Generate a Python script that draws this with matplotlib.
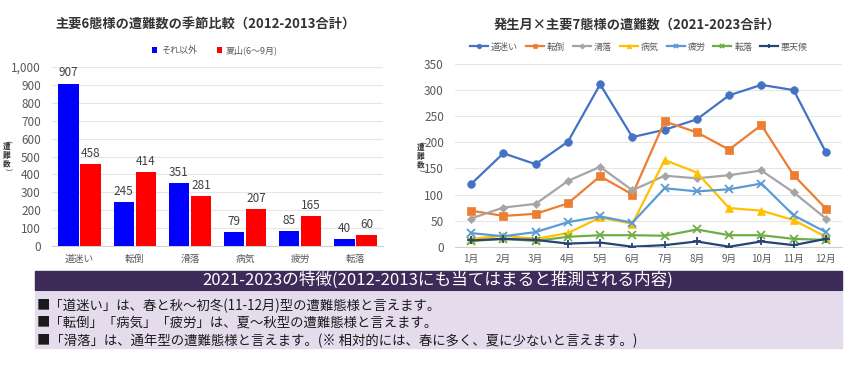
import matplotlib
matplotlib.use('Agg')
import matplotlib.pyplot as plt
from matplotlib.patches import Rectangle
from matplotlib.ticker import FuncFormatter
import numpy as np

plt.rcParams['font.family'] = ['Noto Sans CJK JP', 'DejaVu Sans']

# Left chart data (2012-2013)
bar_categories = ['道迷い', '転倒', '滑落', '病気', '疲労', '転落']
other_season = [907, 245, 351, 79, 85, 40]
summer = [458, 414, 281, 207, 165, 60]

# Right chart data (2021-2023)
months = ['1月', '2月', '3月', '4月', '5月', '6月',
          '7月', '8月', '9月', '10月', '11月', '12月']
michimayoi = [120, 179, 158, 201, 311, 210, 224, 244, 290, 310, 300, 181]
tentou = [69, 59, 63, 83, 135, 100, 240, 219, 186, 233, 137, 73]
katsuraku = [54, 75, 82, 126, 153, 108, 136, 131, 137, 146, 104, 54]
byouki = [15, 21, 15, 26, 56, 44, 166, 142, 74, 69, 51, 19]
hirou = [26, 20, 28, 47, 58, 46, 112, 106, 110, 121, 60, 28]
tenraku = [11, 15, 11, 19, 22, 22, 21, 33, 22, 22, 15, 13]
akutenkou = [12, 15, 13, 6, 8, 0, 3, 10, 0, 10, 3, 15]

W, H = 850, 365
fig = plt.figure(figsize=(W / 100, H / 100), dpi=100)
fig.patch.set_facecolor('white')


def px_axes(x0, y0, x1, y1):
    """axes from pixel box (top-left origin)"""
    return fig.add_axes([x0 / W, 1 - y1 / H, (x1 - x0) / W, (y1 - y0) / H])


def vertical_label(xc, yc):
    # stacked (upright) axis title like Excel's vertical text
    col = '#333333'
    fig.text(xc / W, 1 - (yc - 14) / H, '(', rotation=-90, ha='center',
             va='center', fontsize=5.5, color=col)
    fig.text(xc / W, 1 - yc / H, '遭\n難\n数', ha='center', va='center',
             fontsize=5.5, color=col, linespacing=0.95, fontweight='bold')
    fig.text(xc / W, 1 - (yc + 14) / H, ')', rotation=-90, ha='center',
             va='center', fontsize=5.5, color=col)


tick_col = '#595959'
grid_col = '#e6e6e6'

# ---------------- Left bar chart ----------------
ax1 = px_axes(52, 67, 383, 246)
x = np.arange(len(bar_categories))
bw = 0.37
b1 = ax1.bar(x - 0.2, other_season, bw, color='#0000ff', label='それ以外', zorder=3)
b2 = ax1.bar(x + 0.2, summer, bw, color='#ff0000', label='夏山(6～9月)', zorder=3)
for bars in (b1, b2):
    for r in bars:
        ax1.annotate(f'{int(r.get_height())}',
                     (r.get_x() + r.get_width() / 2, r.get_height()),
                     xytext=(0, 3), textcoords='offset points',
                     ha='center', va='bottom', fontsize=8.5, color='#404040')
ax1.set_ylim(0, 1000)
ax1.set_xlim(-0.5, len(bar_categories) - 0.5)
ax1.set_yticks(np.arange(0, 1001, 100))
ax1.yaxis.set_major_formatter(FuncFormatter(lambda v, p: f'{int(v):,}'))
ax1.set_xticks(x)
ax1.set_xticklabels(bar_categories)
ax1.grid(axis='y', color=grid_col, linewidth=0.8, zorder=0)
for s in ('top', 'right', 'left'):
    ax1.spines[s].set_visible(False)
ax1.spines['bottom'].set_color('#d0d0d0')
ax1.tick_params(axis='both', length=0, colors=tick_col)
ax1.tick_params(axis='y', labelsize=8.5, pad=8)
ax1.tick_params(axis='x', labelsize=7, pad=6)
fig.text(206 / W, 1 - 25 / H, '主要6態様の遭難数の季節比較（2012-2013合計）',
         ha='center', va='center', fontsize=9.5, fontweight='bold', color='#333333')
ax1.legend(loc='center', bbox_to_anchor=(215 / W, 1 - 50 / H),
           bbox_transform=fig.transFigure, ncol=2, frameon=False,
           fontsize=6.5, handlelength=0.6, handleheight=0.6,
           columnspacing=2.2, handletextpad=0.4, labelcolor=tick_col)
vertical_label(7, 155)

# ---------------- Right line chart ----------------
ax2 = px_axes(455, 64, 842, 246.7)
mx = np.arange(len(months))
series = [
    ('道迷い', michimayoi, '#4472c4', 'o', 5.5),
    ('転倒', tentou, '#ed7d31', 's', 5.5),
    ('滑落', katsuraku, '#a5a5a5', 'D', 4.5),
    ('病気', byouki, '#ffc000', '^', 5.5),
    ('疲労', hirou, '#5b9bd5', 'x', 5.5),
    ('転落', tenraku, '#70ad47', 'x', 5.5),
    ('悪天候', akutenkou, '#264478', '+', 6),
]
for name, vals, col, mk, ms in series:
    ax2.plot(mx, vals, color=col, marker=mk, markersize=ms, linewidth=1.6,
             markeredgewidth=1.3 if mk in 'x+' else 0.5, label=name, zorder=3)
ax2.set_ylim(0, 350)
ax2.set_xlim(-0.5, len(months) - 0.5)
ax2.set_yticks(np.arange(0, 351, 50))
ax2.set_xticks(mx)
ax2.set_xticklabels(months)
ax2.grid(axis='y', color=grid_col, linewidth=0.8, zorder=0)
for s in ('top', 'right', 'left'):
    ax2.spines[s].set_visible(False)
ax2.spines['bottom'].set_color('#d0d0d0')
ax2.tick_params(axis='both', length=0, colors=tick_col)
ax2.tick_params(axis='y', labelsize=8.5, pad=8)
ax2.tick_params(axis='x', labelsize=7, pad=5)
fig.text(637 / W, 1 - 25 / H, '発生月×主要7態様の遭難数（2021-2023合計）',
         ha='center', va='center', fontsize=9.5, fontweight='bold', color='#333333')
ax2.legend(loc='center', bbox_to_anchor=(639 / W, 1 - 47 / H),
           bbox_transform=fig.transFigure, ncol=7, frameon=False,
           fontsize=6.5, handlelength=2.0, markerscale=0.6,
           columnspacing=0.9, handletextpad=0.3, labelcolor=tick_col)
vertical_label(421, 156)

# ---------------- Bottom summary box ----------------
fig.patches.append(Rectangle((35 / W, 1 - 290 / H), (842 - 35) / W, 19.5 / H,
                             transform=fig.transFigure, color='#3e2b5a', zorder=0))
fig.patches.append(Rectangle((35 / W, 1 - 348 / H), (842 - 35) / W, 56 / H,
                             transform=fig.transFigure, color='#e4dced', zorder=0))
fig.text(438 / W, 1 - 280.5 / H,
         '2021-2023の特徴(2012-2013にも当てはまると推測される内容)',
         ha='center', va='center', fontsize=12, color='white')
notes = [
    '■「道迷い」は、春と秋～初冬(11-12月)型の遭難態様と言えます。',
    '■「転倒」「病気」「疲労」は、夏～秋型の遭難態様と言えます。',
    '■「滑落」は、通年型の遭難態様と言えます。(※ 相対的には、春に多く、夏に少ないと言えます。)',
]
for i, t in enumerate(notes):
    fig.text(37 / W, 1 - (305.5 + 17.5 * i) / H, t, ha='left', va='center',
             fontsize=9.6, color='#1a1a1a')

fig.savefig('out.png', dpi=100)
